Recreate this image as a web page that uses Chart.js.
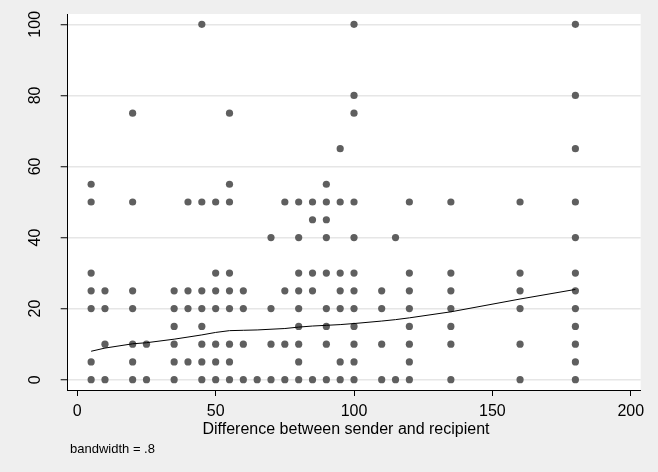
<!DOCTYPE html>
<html>
<head>
<meta charset="utf-8">
<script src="https://cdn.jsdelivr.net/npm/chart.js@4/dist/chart.umd.min.js"></script>
<style>
  html, body { margin: 0; padding: 0; background: #efefef; }
  #wrap { width: 658px; height: 472px; position: relative; }
</style>
</head>
<body>
<div id="wrap"><canvas id="c" width="658" height="472"></canvas></div>
<script>
// ---- data ----
const diffValues = [5, 10, 20, 25, 35, 40, 45, 50, 55, 60, 65, 70, 75, 80, 85, 90, 95, 100, 110, 115, 120, 135, 160, 180];
const amountColumns = [
  [0, 5, 20, 25, 30, 50, 55],
  [0, 10, 20, 25],
  [0, 5, 10, 20, 25, 50, 75],
  [0, 10],
  [0, 5, 10, 15, 20, 25],
  [5, 20, 25, 50],
  [0, 5, 10, 15, 20, 25, 50, 100],
  [0, 5, 10, 20, 25, 30, 50],
  [0, 5, 10, 20, 25, 30, 50, 55, 75],
  [0, 10, 20, 25],
  [0],
  [0, 10, 20, 40],
  [0, 10, 25, 50],
  [0, 5, 10, 15, 20, 25, 30, 40, 50],
  [0, 25, 30, 45, 50],
  [0, 10, 15, 20, 30, 40, 45, 50, 55],
  [0, 5, 20, 25, 30, 50, 65],
  [0, 5, 10, 15, 20, 25, 30, 40, 50, 75, 80, 100],
  [0, 10, 20, 25],
  [0, 40],
  [0, 5, 10, 15, 20, 25, 30, 50],
  [0, 10, 15, 20, 25, 30, 50],
  [0, 10, 20, 25, 30, 50],
  [0, 5, 10, 15, 20, 25, 30, 40, 50, 65, 80, 100]
];
const lowessValues = [8.0, 8.9, 10.1, 10.4, 11.4, 12.0, 12.6, 13.3, 13.8, 13.9, 14.0, 14.2, 14.4, 14.8, 15.1, 15.3, 15.5, 15.8, 16.5, 16.9, 17.4, 19.1, 22.7, 25.4];
const xTickValues = [0, 50, 100, 150, 200];
const yTickValues = [0, 20, 40, 60, 80, 100];
const xTitle = 'Difference between sender and recipient';
const noteText = 'bandwidth = .8';

// ---- build library structures ----
const scatterPoints = [];
diffValues.forEach((x, i) => amountColumns[i].forEach(y => scatterPoints.push({ x: x, y: y })));
const lowessPoints = diffValues.map((x, i) => ({ x: x, y: lowessValues[i] }));

const FONT = 'Arial, "Liberation Sans", sans-serif';

const bgPlugin = {
  id: 'bg',
  beforeDraw(chart) {
    const { ctx, chartArea: a } = chart;
    ctx.save();
    ctx.fillStyle = '#efefef';
    ctx.fillRect(0, 0, chart.width, chart.height);
    ctx.fillStyle = '#ffffff';
    ctx.fillRect(a.left, a.top, a.right - a.left, a.bottom - a.top);
    ctx.restore();
  },
  afterDraw(chart) {
    const ctx = chart.ctx;
    ctx.save();
    ctx.fillStyle = '#000000';
    ctx.textBaseline = 'alphabetic';
    ctx.font = '16px ' + FONT;
    ctx.textAlign = 'center';
    ctx.fillText(xTitle, 346, 433.5);
    ctx.font = '13px ' + FONT;
    ctx.textAlign = 'left';
    ctx.fillText(noteText, 70, 453);
    ctx.restore();
  }
};

new Chart(document.getElementById('c'), {
  type: 'scatter',
  data: {
    datasets: [
      {
        type: 'line',
        data: lowessPoints,
        borderColor: '#000000',
        borderWidth: 1,
        pointRadius: 0,
        tension: 0,
        fill: false,
        order: 0
      },
      {
        data: scatterPoints,
        backgroundColor: '#5f5f5f',
        borderWidth: 0,
        pointRadius: 3.6,
        order: 1
      }
    ]
  },
  options: {
    responsive: false,
    devicePixelRatio: 1,
    animation: false,
    events: [],
    layout: { padding: { left: 0, top: 14, right: 17.3, bottom: 0 } },
    plugins: { legend: { display: false }, tooltip: { enabled: false } },
    scales: {
      x: {
        type: 'linear',
        min: -3.47,
        max: 203.6,
        afterBuildTicks(scale) { scale.ticks = xTickValues.map(v => ({ value: v })); },
        afterFit(scale) { scale.height = 82; scale.paddingLeft = 0; scale.paddingRight = 0; },
        grid: { drawOnChartArea: false, drawTicks: true, tickLength: 6, tickColor: '#000000', tickWidth: 1 },
        border: { display: true, color: '#000000', width: 1 },
        ticks: { color: '#000000', font: { family: FONT, size: 16 }, padding: 6, maxRotation: 0, minRotation: 0, autoSkip: false }
      },
      y: {
        type: 'linear',
        min: -2.9,
        max: 102.9,
        afterBuildTicks(scale) { scale.ticks = yTickValues.map(v => ({ value: v })); },
        afterFit(scale) { scale.width = 67.7; scale.paddingTop = 0; scale.paddingBottom = 0; },
        grid: { color: '#e6e6e6', lineWidth: 1.5, drawTicks: true, tickLength: 7, tickColor: '#000000', tickWidth: 1 },
        border: { display: true, color: '#000000', width: 1 },
        ticks: { color: '#000000', font: { family: FONT, size: 16 }, padding: 12, minRotation: 90, maxRotation: 90, crossAlign: 'center', autoSkip: false }
      }
    }
  },
  plugins: [bgPlugin]
});
</script>
</body>
</html>
